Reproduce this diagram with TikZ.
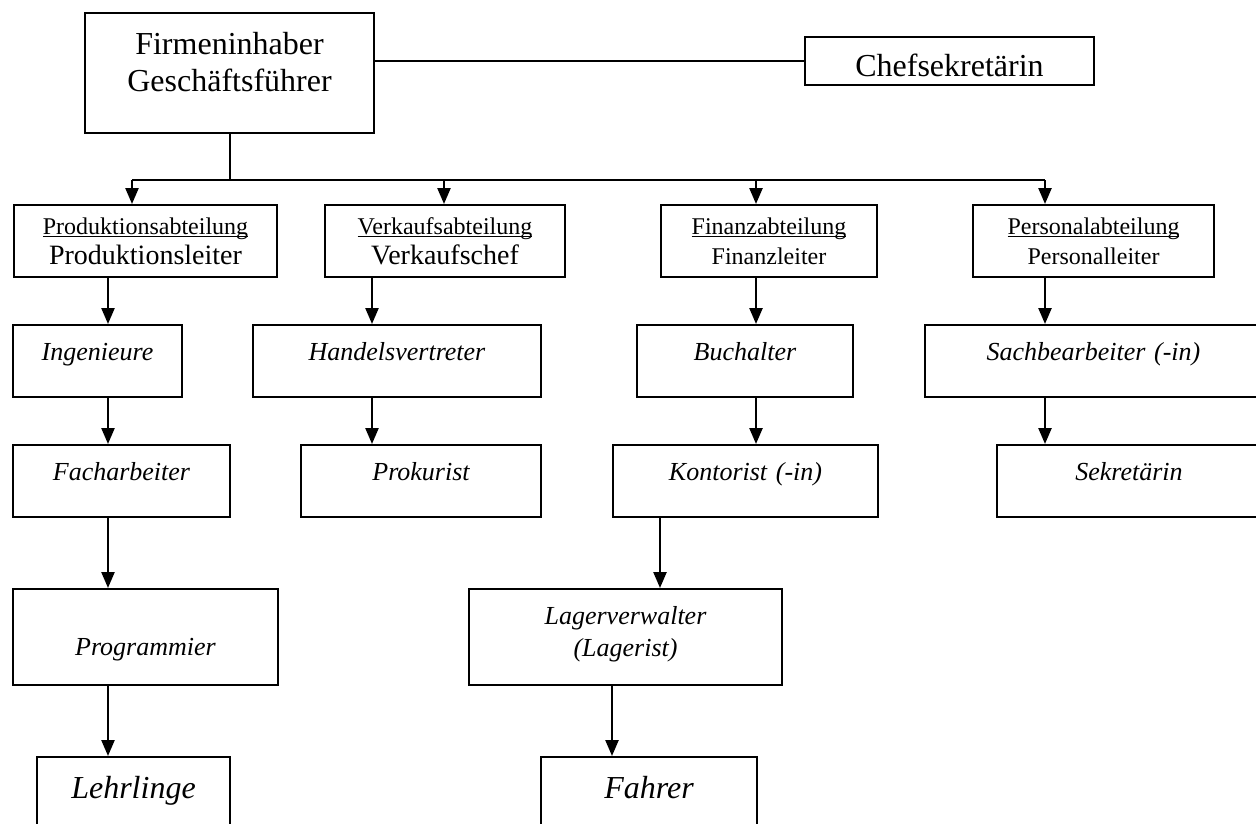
\documentclass[tikz,border=0pt]{standalone}
\usepackage{fontspec}
\setmainfont{Liberation Serif}
\usetikzlibrary{arrows.meta}
\tikzset{
  orgBox/.style={draw, line width=2pt, inner sep=0pt, anchor=north west, align=center},
  orgHead/.style={orgBox, font=\fontsize{32}{37}\selectfont},
  orgDept/.style={orgBox, font=\fontsize{24}{30}\selectfont},
  orgStaff/.style={orgBox, font=\fontsize{26}{32}\selectfont\itshape},
  orgBig/.style={orgBox, font=\fontsize{32}{37}\selectfont\itshape},
  orgSize/.style n args={3}{text width=#1, text height=#2, text depth=#3},
  orgLine/.style={line width=2pt},
  orgArrow/.style={-{Triangle[width=13pt,length=16pt]}, line width=2.4pt}
}
\newsavebox{\deptBox}
\newcommand{\deptUnder}[1]{\sbox{\deptBox}{#1}\rlap{\rule[-3pt]{\wd\deptBox}{1.4pt}}\usebox{\deptBox}}

\begin{document}
\begin{tikzpicture}[x=1pt, y=-1pt]
  \useasboundingbox[fill=white] (0,0) rectangle (1256,823);
  \clip (0,0) rectangle (1256,823);
  % Leitung
  \node[orgHead, orgSize={289pt}{41pt}{79pt}] (chief) at (84,12) {Firmeninhaber\\Geschäftsführer};
  \node[orgHead, orgSize={289pt}{39pt}{9pt}] (chefsek) at (804,36) {Chefsekretärin};
  % Abteilungen
  \node[orgDept, orgSize={263pt}{29pt}{43pt}] (prod) at (13,204) {\deptUnder{Produktionsabteilung}\\{\fontsize{28}{30}\selectfont Produktionsleiter}};
  \node[orgDept, orgSize={240pt}{29pt}{43pt}] (verk) at (324,204) {\deptUnder{Verkaufsabteilung}\\{\fontsize{28}{30}\selectfont Verkaufschef}};
  \node[orgDept, orgSize={216pt}{29pt}{43pt}] (fin) at (660,204) {\deptUnder{Finanzabteilung}\\Finanzleiter};
  \node[orgDept, orgSize={241pt}{29pt}{43pt}] (pers) at (972,204) {\deptUnder{Personalabteilung}\\Personalleiter};
  % Mitarbeiter
  \node[orgStaff, orgSize={169pt}{35pt}{37pt}] (ing) at (12,324) {Ingenieure};
  \node[orgStaff, orgSize={288pt}{35pt}{37pt}] (hand) at (252,324) {Handelsvertreter};
  \node[orgStaff, orgSize={216pt}{35pt}{37pt}] (buch) at (636,324) {Buchalter};
  \node[orgStaff, orgSize={337pt}{35pt}{37pt}] (sach) at (924,324) {Sachbearbeiter (-in)};
  \node[orgStaff, orgSize={217pt}{35pt}{37pt}] (fach) at (12,444) {Facharbeiter};
  \node[orgStaff, orgSize={240pt}{35pt}{37pt}] (prok) at (300,444) {Prokurist};
  \node[orgStaff, orgSize={265pt}{35pt}{37pt}] (kont) at (612,444) {Kontorist (-in)};
  \node[orgStaff, orgSize={264pt}{35pt}{37pt}] (sek) at (996,444) {Sekretärin};
  \node[orgStaff, orgSize={265pt}{66pt}{30pt}] (prog) at (12,588) {Programmier};
  \node[orgStaff, orgSize={313pt}{35pt}{61pt}] (lager) at (468,588) {Lagerverwalter\\(Lagerist)};
  \node[orgBig, orgSize={193pt}{41pt}{80pt}] (lehr) at (36,756) {Lehrlinge};
  \node[orgBig, orgSize={216pt}{41pt}{80pt}] (fahr) at (540,756) {Fahrer};
  % Verbindungen
  \coordinate (busA) at (132,180);
  \coordinate (busB) at (444,180);
  \coordinate (busC) at (756,180);
  \coordinate (busD) at (1045,180);
  \draw[orgLine] (chefsek.west) -- (chefsek.west -| chief.east);
  \draw[orgLine] (chief.south) -- (chief.south |- busA);
  \draw[orgLine] (busA) -- (busD);
  \draw[orgArrow] (busA) -- (busA |- prod.north);
  \draw[orgArrow] (busB) -- (busB |- verk.north);
  \draw[orgArrow] (busC) -- (busC |- fin.north);
  \draw[orgArrow] (busD) -- (busD |- pers.north);
  \draw[orgArrow] ([xshift=95pt]prod.south west) -- ([xshift=96pt]ing.north west);
  \draw[orgArrow] ([xshift=96pt]ing.south west) -- ([xshift=96pt]fach.north west);
  \draw[orgArrow] ([xshift=96pt]fach.south west) -- ([xshift=96pt]prog.north west);
  \draw[orgArrow] ([xshift=96pt]prog.south west) -- ([xshift=72pt]lehr.north west);
  \draw[orgArrow] ([xshift=48pt]verk.south west) -- ([xshift=120pt]hand.north west);
  \draw[orgArrow] ([xshift=120pt]hand.south west) -- ([xshift=72pt]prok.north west);
  \draw[orgArrow] ([xshift=96pt]fin.south west) -- ([xshift=120pt]buch.north west);
  \draw[orgArrow] ([xshift=120pt]buch.south west) -- ([xshift=144pt]kont.north west);
  \draw[orgArrow] ([xshift=48pt]kont.south west) -- ([xshift=192pt]lager.north west);
  \draw[orgArrow] ([xshift=144pt]lager.south west) -- ([xshift=72pt]fahr.north west);
  \draw[orgArrow] ([xshift=73pt]pers.south west) -- ([xshift=121pt]sach.north west);
  \draw[orgArrow] ([xshift=121pt]sach.south west) -- ([xshift=49pt]sek.north west);
\end{tikzpicture}
\end{document}
